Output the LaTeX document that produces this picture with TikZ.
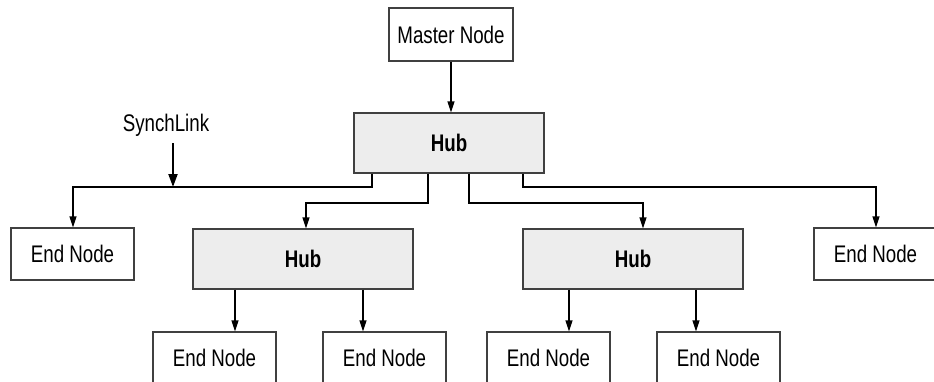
\documentclass[tikz,border=0pt]{standalone}
\usepackage{fontspec}
\setmainfont{Liberation Sans}[FakeStretch=0.78]
\usetikzlibrary{arrows.meta}
\begin{document}
\begin{tikzpicture}[x=1pt,y=-1pt,
  box/.style={draw=black!75,line width=1.2pt,rectangle,inner sep=0pt,font=\fontsize{24}{26}\selectfont},
  endbox/.style={box,minimum width=123pt,minimum height=52pt},
  hubbox/.style={box,fill=black!7,minimum height=60pt,font=\fontsize{24}{26}\selectfont\bfseries},
  conn/.style={draw=black,line width=1.2pt,-{Triangle[length=11pt,width=7pt]}}]
\useasboundingbox (0,0) rectangle (934,381);
\clip (0,0) rectangle (934,381);
\node[box,minimum width=124pt,minimum height=53pt] (m) at (451,34.5) {Master Node};
\node[hubbox,minimum width=190pt] (h1) at (449,143) {Hub};
\node[endbox] (e1) at (72.5,254) {End Node};
\node[hubbox,minimum width=220pt] (h2) at (303,259) {Hub};
\node[hubbox,minimum width=220pt] (h3) at (633,259) {Hub};
\node[endbox] (e2) at (875.5,254) {End Node};
\node[endbox] (b1) at (214.5,358) {End Node};
\node[endbox] (b2) at (384.5,358) {End Node};
\node[endbox] (b3) at (548.5,358) {End Node};
\node[endbox] (b4) at (718.5,358) {End Node};
\node[font=\fontsize{24}{26}\selectfont] (s) at (166,125) {SynchLink};
% bend coordinates
\coordinate (t1) at (372,187);
\coordinate (t2) at (428,203);
\coordinate (t3) at (469,203);
\coordinate (t4) at (523,187);
\coordinate (a1) at (73,0);
\coordinate (a2) at (306,0);
\coordinate (a3) at (643,0);
\coordinate (a4) at (876,0);
\coordinate (c1) at (235,0);
\coordinate (c2) at (363,0);
\coordinate (c3) at (569,0);
\coordinate (c4) at (696,0);
\coordinate (sa) at (173,143);
\coordinate (sb) at (173,187);
% connectors
\draw[conn] (m.south) -- (h1.north -| m.south);
\draw[conn] (h1.south -| t1) -- (t1) -| (e1.north -| a1);
\draw[conn] (h1.south -| t2) -- (t2) -| (h2.north -| a2);
\draw[conn] (h1.south -| t3) -- (t3) -| (h3.north -| a3);
\draw[conn] (h1.south -| t4) -- (t4) -| (e2.north -| a4);
\draw[conn] (h2.south -| c1) -- (b1.north -| c1);
\draw[conn] (h2.south -| c2) -- (b2.north -| c2);
\draw[conn] (h3.south -| c3) -- (b3.north -| c3);
\draw[conn] (h3.south -| c4) -- (b4.north -| c4);
\draw[draw=black,line width=2pt,-{Triangle[length=13pt,width=9pt]}] (sa) -- (sb);
\end{tikzpicture}
\end{document}
